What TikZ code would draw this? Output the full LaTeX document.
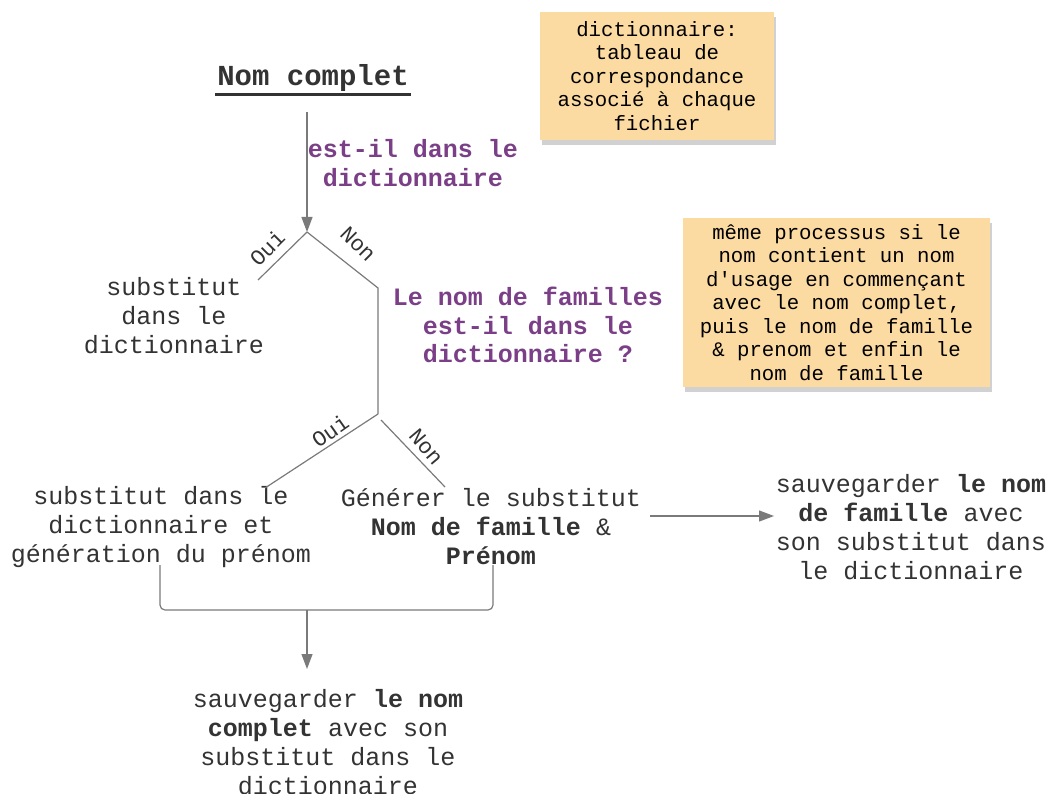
\documentclass[tikz,border=0pt]{standalone}
\usepackage{fontspec}
\setmainfont{Liberation Mono}
\usetikzlibrary{arrows.meta,shadows}
\definecolor{txt}{HTML}{333333}
\definecolor{purp}{HTML}{7B3F87}
\definecolor{notefill}{HTML}{FCDBA3}
\definecolor{ln}{HTML}{7A7A7A}
\begin{document}
\begin{tikzpicture}[x=1pt,y=-1pt,
  lbl/.style={text=txt, align=center, font=\fontsize{25}{29}\selectfont, inner sep=0pt},
  qst/.style={text=purp, align=center, font=\bfseries\fontsize{25}{28.5}\selectfont, inner sep=0pt},
  yn/.style={text=txt, font=\fontsize{22}{24}\selectfont, inner sep=0pt},
  notebox/.style={fill=notefill, align=center, text=black, inner sep=0pt,
    font=\fontsize{20.7}{23.5}\selectfont,
    drop shadow={shadow xshift=2pt, shadow yshift=-5pt, opacity=0.18, fill=black}},
  conn/.style={draw=ln, line width=1.2pt},
  arr/.style={conn, -{Triangle[length=15pt,width=11pt]}}]
\useasboundingbox (0,0) rectangle (1048,794);

% notes
\node[notebox, minimum width=234pt, minimum height=128pt] (n1) at (657,76)
  {dictionnaire:\\tableau de\\correspondance\\associé à chaque\\fichier};
\node[notebox, minimum width=307pt, minimum height=169pt] (n2) at (836.5,302.5)
  {même processus si le\\nom contient un nom\\d\textquotesingle usage en commençant\\avec le nom complet,\\puis le nom de famille\\\& prenom et enfin le\\nom de famille};

% title
\node[text=txt, font=\bfseries\fontsize{29}{32}\selectfont, inner sep=0pt] (title) at (313,78) {Nom complet};
\draw[txt, line width=2.4pt] ([yshift=-9pt,xshift=-2pt]title.base west) -- ([yshift=-9pt,xshift=2pt]title.base east);

% questions
\node[qst] (q1) at (413,163) {est-il dans le\\dictionnaire};
\node[qst] (q2) at (528,325) {Le nom de familles\\est-il dans le\\dictionnaire ?};

% texts
\node[lbl] (s1) at (174,316) {substitut\\dans le\\dictionnaire};
\node[lbl] (s2) at (161,527) {substitut dans le\\dictionnaire et\\génération du prénom};
\node[lbl] (gen) at (491,527) {Générer le substitut\\\textbf{Nom de famille} \&\\\textbf{Prénom}};
\node[lbl] (save2) at (911,527) {sauvegarder \textbf{le nom}\\\textbf{de famille} avec\\son substitut dans\\le dictionnaire};
\node[lbl] (save1) at (328,742) {sauvegarder \textbf{le nom}\\\textbf{complet} avec son\\substitut dans le\\dictionnaire};

% coordinates
\coordinate (a0) at (307,112);
\coordinate (j1) at (307,232);
\coordinate (o1) at (258,280);
\coordinate (k1) at (378,288);
\coordinate (j2) at (378,414);
\coordinate (o2) at (265,488);
\coordinate (m2) at (381,420);
\coordinate (k2) at (445,487);
\coordinate (b1) at (160,565);
\coordinate (b2) at (493,565);
\coordinate (bm) at (307,610);
\coordinate (e1) at (307,669);
\coordinate (r0) at (650,516);
\coordinate (r1) at (774,516);

% connectors
\draw[arr] (a0) -- (j1);
\draw[conn] (j1) -- (o1);
\draw[conn] (j1) -- (k1) -- (j2);
\draw[conn] (j2) -- (o2);
\draw[conn] (m2) -- (k2);
\draw[conn, rounded corners=5pt] (b1) -- (160,610) -- (493,610) -- (b2);
\draw[arr] (bm) -- (e1);
\draw[arr] (r0) -- (r1);

% yes/no labels
\node[yn, rotate=45] (y1) at (267,248) {Oui};
\node[yn, rotate=-45] (x1) at (358,244) {Non};
\node[yn, rotate=35] (y2) at (330,431) {Oui};
\node[yn, rotate=-50] (x2) at (426,447) {Non};
\end{tikzpicture}
\end{document}
